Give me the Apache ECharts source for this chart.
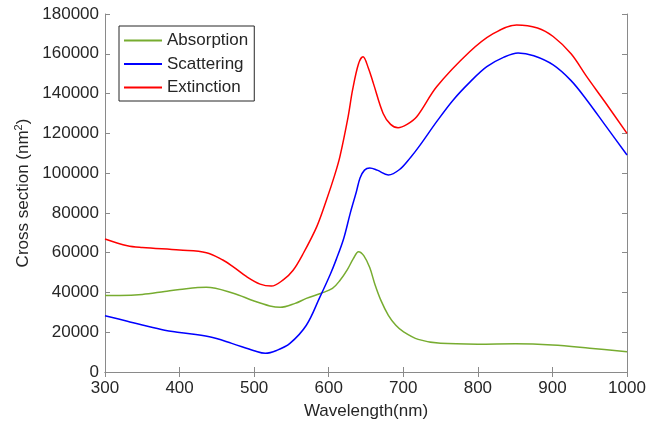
<!DOCTYPE html>
<html>
<head>
<meta charset="utf-8">
<script src="https://cdn.jsdelivr.net/npm/echarts@6/dist/echarts.min.js"></script>
<style>
  html, body { margin: 0; padding: 0; background: #fff; }
  #chart { width: 648px; height: 429px; }
</style>
</head>
<body>
<div id="chart"></div>
<script>
  // wavelength (nm) and cross section values
  const absWl = [300, 320, 350, 380, 400, 436, 472, 499, 521, 535, 555, 570, 590, 605, 615, 625, 633, 640, 647, 655, 662, 670, 680, 690, 700, 720, 750, 800, 850, 900, 950, 1000];
  const absVal = [38500, 38500, 39000, 40500, 41500, 42600, 39600, 35800, 33200, 32500, 34500, 37000, 39600, 42000, 46000, 51500, 57000, 60500, 58500, 52500, 44000, 36000, 28500, 23500, 20300, 16400, 14400, 14000, 14200, 13600, 12000, 10200];

  const scaWl = [300, 330, 350, 380, 400, 440, 470, 500, 515, 530, 548, 570, 588, 602, 610, 620, 629, 637, 642, 648, 655, 665, 680, 695, 710, 722, 745, 767, 790, 812, 835, 854, 875, 901, 925, 946, 970, 1000];
  const scaVal = [28300, 25500, 23600, 21000, 19900, 17700, 14400, 10700, 9400, 10800, 14400, 23500, 37500, 49000, 56500, 67000, 80000, 90500, 97500, 101500, 102600, 101500, 99100, 101800, 108000, 113800, 126000, 136800, 146000, 153500, 158300, 160400, 159000, 154400, 146500, 136800, 124500, 109100];

  const extWl = [300, 330, 350, 400, 436, 458, 472, 490, 508, 523, 539, 552, 566, 584, 597, 608, 615, 626, 632, 640, 646, 653, 660, 673, 683, 693, 705, 718, 745, 789, 820, 852, 880, 901, 925, 946, 970, 1000];
  const extVal = [66900, 63500, 62600, 61300, 60000, 56300, 52900, 47900, 44200, 43200, 46300, 51000, 59700, 73100, 86500, 99000, 108300, 128300, 141800, 155000, 158500, 153000, 145000, 130000, 124500, 122800, 124500, 128300, 143500, 161000, 170000, 174500, 173000, 168700, 160000, 148500, 136000, 120000];

  const seriesNames = ['Absorption', 'Scattering', 'Extinction'];
  const seriesColors = ['#77AC30', '#0000FF', '#FF0000'];

  const pairs = (xs, ys) => xs.map((x, i) => [x, ys[i]]);

  const textColor = '#262626';
  const axisColor = '#8a8a8a';
  const font = 'Liberation Sans, Arial, sans-serif';

  const myChart = echarts.init(document.getElementById('chart'));

  const lineSeries = (name, data, color) => ({
    name: name,
    type: 'line',
    data: data,
    smooth: 0.35,
    showSymbol: false,
    symbol: 'none',
    lineStyle: { width: 1.5, color: color },
    itemStyle: { color: color },
    animation: false
  });

  const option = {
    backgroundColor: '#fff',
    animation: false,
    grid: { left: 105, right: 21, top: 14, bottom: 57, outerBoundsMode: 'none', containLabel: false },
    legend: {
      orient: 'vertical',
      left: 119,
      top: 26,
      padding: [6, 6, 5, 5],
      itemGap: 6.5,
      itemWidth: 38,
      itemHeight: 2,
      icon: 'rect',
      backgroundColor: '#fff',
      borderColor: '#262626',
      borderWidth: 1,
      textStyle: { color: textColor, fontSize: 17, fontFamily: font },
      data: seriesNames
    },
    xAxis: [{
      type: 'value',
      min: 300,
      max: 1000,
      interval: 100,
      position: 'bottom',
      name: 'Wavelength(nm)',
      nameLocation: 'middle',
      nameGap: 31,
      nameTextStyle: { color: textColor, fontSize: 17, fontFamily: font },
      axisLine: { show: true, lineStyle: { color: axisColor, width: 1 } },
      axisTick: { show: true, inside: true, length: 5, lineStyle: { color: axisColor } },
      axisLabel: { color: textColor, fontSize: 17, fontFamily: font, margin: 8, formatter: v => String(v) },
      splitLine: { show: false }
    }, {
      type: 'value',
      min: 300,
      max: 1000,
      interval: 100,
      position: 'top',
      axisLine: { show: true, lineStyle: { color: axisColor, width: 1 } },
      axisTick: { show: true, inside: true, length: 5, lineStyle: { color: axisColor } },
      axisLabel: { show: false },
      splitLine: { show: false }
    }],
    yAxis: [{
      type: 'value',
      min: 0,
      max: 180000,
      interval: 20000,
      position: 'left',
      name: 'Cross section (nm{sup|2})',
      nameLocation: 'middle',
      nameGap: 70,
      nameTextStyle: {
        color: textColor, fontSize: 17, fontFamily: font,
        rich: { sup: { fontSize: 11, verticalAlign: 'top', color: textColor, fontFamily: font, padding: [0, 0, 8, 0] } }
      },
      axisLine: { show: true, lineStyle: { color: axisColor, width: 1 } },
      axisTick: { show: true, inside: true, length: 5, lineStyle: { color: axisColor } },
      axisLabel: { color: textColor, fontSize: 17, fontFamily: font, margin: 6, formatter: v => String(v) },
      splitLine: { show: false }
    }, {
      type: 'value',
      min: 0,
      max: 180000,
      interval: 20000,
      position: 'right',
      axisLine: { show: true, lineStyle: { color: axisColor, width: 1 } },
      axisTick: { show: true, inside: true, length: 5, lineStyle: { color: axisColor } },
      axisLabel: { show: false },
      splitLine: { show: false }
    }],
    series: [
      lineSeries(seriesNames[0], pairs(absWl, absVal), seriesColors[0]),
      lineSeries(seriesNames[1], pairs(scaWl, scaVal), seriesColors[1]),
      lineSeries(seriesNames[2], pairs(extWl, extVal), seriesColors[2])
    ]
  };

  myChart.setOption(option);
</script>
</body>
</html>
